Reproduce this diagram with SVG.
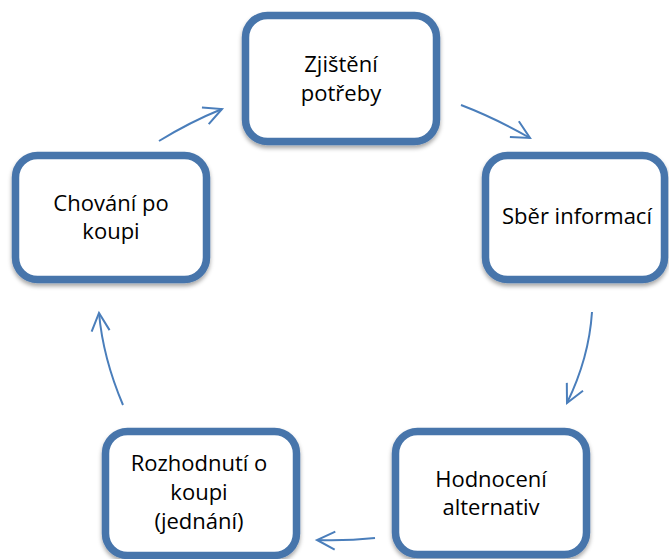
<svg xmlns="http://www.w3.org/2000/svg" width="669" height="559" viewBox="0 0 669 559">
<style>
.box{fill:#fff;stroke:#4775AB;stroke-width:7.5;filter:url(#sh)}
.lbl{font-family:"Open Sans","Liberation Sans",sans-serif;font-size:22px;fill:#000;text-anchor:middle}
.arr{fill:none;stroke:#4A7EBB;stroke-width:2;marker-end:url(#ah)}
</style>
<defs>
<filter id="sh" x="-10%" y="-10%" width="120%" height="125%">
<feDropShadow dx="0" dy="3" stdDeviation="2" flood-color="#000" flood-opacity="0.35"/>
</filter>
<marker id="ah" markerUnits="userSpaceOnUse" orient="auto" overflow="visible" refX="0" refY="0" markerWidth="1" markerHeight="1">
<path d="M -18 -9 L 0 0 L -18 9" fill="none" stroke="#4A7EBB" stroke-width="2"/>
</marker>
</defs>
<rect width="669" height="559" fill="#fff"/>
<g id="connectors">
<path class="arr" d="M 461 105 Q 495 118 530 138"/>
<path class="arr" d="M 592 312 Q 589 358 567 403"/>
<path class="arr" d="M 375 538 Q 346 541 317 540"/>
<path class="arr" d="M 123 405 Q 103 358 99 313"/>
<path class="arr" d="M 159 141 Q 190 122 222 109"/>
</g>
<g id="node-zjisteni">
<rect class="box" x="245.5" y="15.5" width="191" height="126" rx="22"/>
<text class="lbl" x="341" y="72">Zjištění</text>
<text class="lbl" x="341" y="101">potřeby</text>
</g>
<g id="node-sber">
<rect class="box" x="485.5" y="155.5" width="179" height="124" rx="22"/>
<text class="lbl" x="577" y="224">Sběr informací</text>
</g>
<g id="node-hodnoceni">
<rect class="box" x="395.5" y="431.5" width="191" height="123" rx="22"/>
<text class="lbl" x="491" y="487">Hodnocení</text>
<text class="lbl" x="491" y="515">alternativ</text>
</g>
<g id="node-rozhodnuti">
<rect class="box" x="105.5" y="431.5" width="191" height="124" rx="22"/>
<text class="lbl" x="199" y="471">Rozhodnutí o</text>
<text class="lbl" x="199" y="500">koupi</text>
<text class="lbl" x="199" y="529">(jednání)</text>
</g>
<g id="node-chovani">
<rect class="box" x="15.5" y="155.5" width="191" height="124" rx="22"/>
<text class="lbl" x="111" y="211">Chování po</text>
<text class="lbl" x="111" y="239">koupi</text>
</g>
</svg>
